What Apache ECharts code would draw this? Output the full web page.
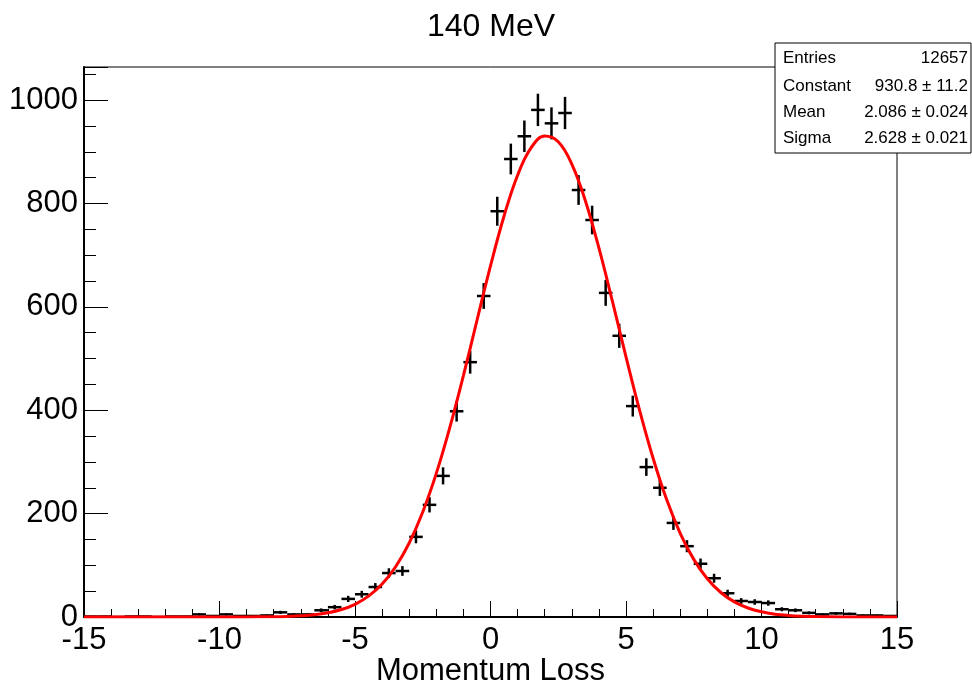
<!DOCTYPE html>
<html>
<head>
<meta charset="utf-8">
<title>140 MeV</title>
<script src="https://cdn.jsdelivr.net/npm/echarts@6/dist/echarts.min.js"></script>
<style>
  html, body { margin: 0; padding: 0; background: #fff; }
  #main { width: 972px; height: 687px; }
</style>
</head>
<body>
<div id="main"></div>
<script>
  // histogram: 60 bins of width 0.5 from -15 to 15
  const binStart = -15
  const binWidth = 0.5
  const counts = [
    1, 1, 0, 1, 1, 0, 1, 1, 5, 2, 5, 2, 2, 3,
    9, 5, 5, 13, 19, 35,
    44, 58, 85, 89, 155, 217, 273, 398, 493, 621,
    785, 886, 930, 981, 955, 975, 826, 768, 627, 544,
    408, 290, 250, 182, 137, 103, 75, 46, 31, 29,
    27, 15, 13, 8, 5, 7, 6, 3, 3, 2
  ]

  // gaus fit curve
  const fitX = [-15, -10, -9, -8, -7.5, -7, -6.5, -6, -5.5, -5, -4.5, -4, -3.5, -3, -2.5, -2, -1.5, -1, -0.5,
    0, 0.5, 1, 1.5, 2, 2.5, 3, 3.5, 4, 4.5, 5, 5.5, 6, 6.5, 7, 7.5, 8, 8.5, 9, 9.5, 10, 10.5, 11, 11.5, 12, 13, 14, 15]
  const fitY = [0, 0, 0.1, 0.6, 1.2, 2.4, 4.5, 8.2, 14.4, 24.6, 40.3, 63.7, 97.3, 143.1, 203.1, 277.9, 366.9, 467.1, 573.6,
    679.3, 775.8, 854.7, 907.9, 930.3, 919.3, 876.2, 805.3, 713.9, 610.4, 503.4, 400.3, 307.1, 227.1, 162.0, 111.5, 74.0, 47.4, 29.2, 17.4, 10.0, 5.5, 3.0, 1.5, 0.8, 0.2, 0, 0]

  // stats box
  const statNames = ['Entries', 'Constant', 'Mean', 'Sigma']
  const statValues = ['12657', '930.8 \u00b1 11.2', '2.086 \u00b1 0.024', '2.628 \u00b1 0.021']
  const statRowY = [58, 86, 112, 138]

  const font = 'Liberation Sans, Arial, Helvetica, sans-serif'

  const histData = counts.map((c, i) => [binStart + binWidth * (i + 0.5), c])
  const fitData = fitX.map((x, i) => [x, fitY[i]])

  const myChart = echarts.init(document.getElementById('main'))

  const statGraphics = [{
    type: 'rect',
    z: 100,
    shape: { x: 775, y: 43, width: 196, height: 110 },
    style: { fill: '#fff', stroke: '#000', lineWidth: 1 }
  }]
  statNames.forEach((name, i) => {
    statGraphics.push({
      type: 'text', z: 101, x: 783, y: statRowY[i],
      style: { text: name, fontSize: 17, fontFamily: font, fill: '#000', textAlign: 'left', textVerticalAlign: 'middle' }
    })
    statGraphics.push({
      type: 'text', z: 101, x: 968, y: statRowY[i],
      style: { text: statValues[i], fontSize: 17, fontFamily: font, fill: '#000', textAlign: 'right', textVerticalAlign: 'middle' }
    })
  })

  const option = {
    animation: false,
    backgroundColor: '#fff',
    textStyle: { fontFamily: font },
    title: {
      text: '140 MeV',
      left: 422,
      top: 6,
      textStyle: { fontSize: 32, fontWeight: 'normal', color: '#000', fontFamily: font }
    },
    grid: {
      left: 84, right: 75, top: 67, bottom: 70,
      show: true, borderColor: '#000', borderWidth: 1, backgroundColor: '#fff',
      containLabel: false, outerBoundsMode: 'none'
    },
    xAxis: {
      type: 'value',
      min: -15, max: 15, interval: 5,
      name: 'Momentum Loss',
      nameLocation: 'middle',
      nameGap: 39,
      nameMoveOverlap: false,
      nameTextStyle: { fontSize: 31, color: '#000', fontFamily: font },
      axisLine: { show: true, onZero: false, lineStyle: { color: '#000', width: 2 } },
      axisTick: { inside: true, length: 16, lineStyle: { color: '#000', width: 1 } },
      minorTick: { show: true, splitNumber: 5, length: 8, lineStyle: { color: '#000', width: 1 } },
      axisLabel: { fontSize: 31, color: '#000', margin: 8, fontFamily: font },
      splitLine: { show: false }
    },
    yAxis: [
      {
        type: 'value',
        min: 0, max: 1064, interval: 200,
        position: 'left',
        axisLine: { show: true, onZero: false, lineStyle: { color: '#000', width: 2 } },
        axisTick: { inside: true, length: 24, lineStyle: { color: '#000', width: 1 } },
        axisLabel: {
          fontSize: 31, color: '#000', margin: 6, fontFamily: font,
          formatter: v => (v % 200 === 0 ? String(v) : '')
        },
        splitLine: { show: false }
      },
      {
        // minor ticks every 50
        type: 'value',
        min: 0, max: 1064, interval: 50,
        position: 'left',
        axisLine: { show: false, onZero: false },
        axisTick: { inside: true, length: 12, lineStyle: { color: '#000', width: 1 } },
        axisLabel: { show: false },
        splitLine: { show: false }
      }
    ],
    graphic: statGraphics,
    series: [
      {
        type: 'custom',
        name: 'data',
        clip: true,
        z: 3,
        data: histData,
        renderItem: function (params, api) {
          const x = api.value(0)
          const y = api.value(1)
          const err = Math.sqrt(y)
          const l = api.coord([x - binWidth / 2, y])
          const r = api.coord([x + binWidth / 2, y])
          const t = api.coord([x, y + err])
          const b = api.coord([x, y - err])
          const style = { stroke: '#000', lineWidth: 2.5 }
          return {
            type: 'group',
            children: [
              { type: 'line', shape: { x1: l[0], y1: l[1], x2: r[0], y2: r[1] }, style: style },
              { type: 'line', shape: { x1: t[0], y1: t[1], x2: b[0], y2: b[1] }, style: style }
            ]
          }
        }
      },
      {
        type: 'line',
        name: 'gaus',
        z: 4,
        data: fitData,
        smooth: 0.4,
        showSymbol: false,
        clip: true,
        lineStyle: { color: '#ff0000', width: 3 },
        itemStyle: { color: '#ff0000' }
      }
    ]
  }

  myChart.setOption(option)
</script>
</body>
</html>
